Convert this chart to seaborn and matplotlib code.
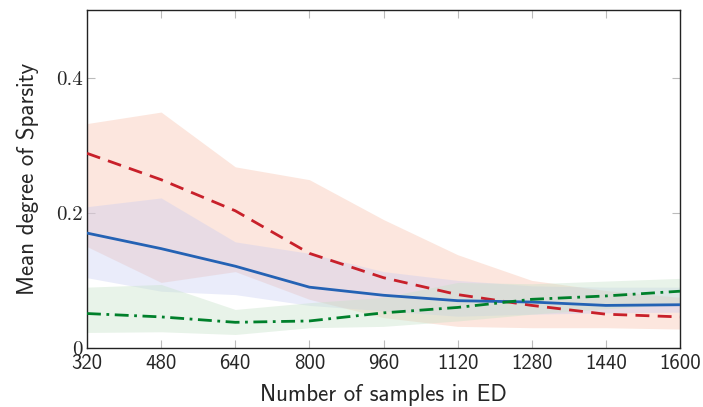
import numpy as np
import pandas as pd
import matplotlib
matplotlib.use("Agg")
import matplotlib.pyplot as plt
import seaborn as sns

samples = [320, 480, 640, 800, 960, 1120, 1280, 1440, 1600]

red_mean = [0.288, 0.249, 0.203, 0.140, 0.104, 0.079, 0.063, 0.050, 0.046]
red_low = [0.150, 0.097, 0.113, 0.072, 0.045, 0.032, 0.030, 0.030, 0.028]
red_high = [0.332, 0.349, 0.268, 0.249, 0.190, 0.138, 0.100, 0.085, 0.075]

blue_mean = [0.170, 0.147, 0.121, 0.090, 0.078, 0.070, 0.068, 0.063, 0.064]
blue_low = [0.104, 0.084, 0.079, 0.063, 0.055, 0.047, 0.050, 0.052, 0.053]
blue_high = [0.209, 0.222, 0.157, 0.140, 0.113, 0.100, 0.092, 0.090, 0.090]

green_mean = [0.051, 0.046, 0.038, 0.040, 0.052, 0.060, 0.072, 0.077, 0.084]
green_low = [0.023, 0.024, 0.020, 0.030, 0.032, 0.040, 0.050, 0.058, 0.065]
green_high = [0.090, 0.094, 0.057, 0.067, 0.075, 0.097, 0.095, 0.099, 0.103]

xticks = [320, 480, 640, 800, 960, 1120, 1280, 1440, 1600]
yticks = [0, 0.2, 0.4]
ytick_labels = ["0", "0.2", "0.4"]

sns.set_style("white")

fig = plt.figure(figsize=(7.03, 4.07), dpi=100)
ax = fig.add_axes([87/703, 1-348/407, (680-87)/703, (348-10)/407])

series = [
    ("red", red_mean, red_low, red_high, "#c8202a", "#f9c9b6", (0, (5, 3))),
    ("blue", blue_mean, blue_low, blue_high, "#2462b4", "#c3c9f2", "-"),
    ("green", green_mean, green_low, green_high, "#00802b", "#c6e2c8", (0, (5, 2, 1, 2))),
]

fills = {"red": 0.45, "blue": 0.35, "green": 0.4}
for name, m, lo, hi, lc, fc, ls in series:
    ax.fill_between(samples, lo, hi, color=fc, alpha=fills[name], lw=0, zorder=1)

for name, m, lo, hi, lc, fc, ls in series:
    df = pd.DataFrame({"x": samples, "y": m})
    sns.lineplot(data=df, x="x", y="y", ax=ax, color=lc, lw=2.0, zorder=3)
    ax.lines[-1].set_linestyle(ls)

ax.set_xlim(320, 1600)
ax.set_ylim(0, 0.5)
ax.set_xticks(xticks)
ax.set_xticklabels([str(t) for t in xticks], family="cmss10", fontsize=15)
ax.set_yticks(yticks)
ax.set_yticklabels(ytick_labels, family="cmr10", fontsize=15)
ax.tick_params(axis="both", direction="in", length=6, width=0.8, color="#bbbbbb",
               top=True, right=True, bottom=True, left=True, pad=3)
ax.tick_params(axis="x", pad=4)
for s in ax.spines.values():
    s.set_color("#222222")
    s.set_linewidth(1.0)

ax.set_xlabel("Number of samples in ED", family="cmss10", fontsize=16.5, labelpad=8)
ax.set_ylabel("Mean degree of Sparsity", family="cmss10", fontsize=16.5, labelpad=12)

fig.savefig("out.png", dpi=100)
